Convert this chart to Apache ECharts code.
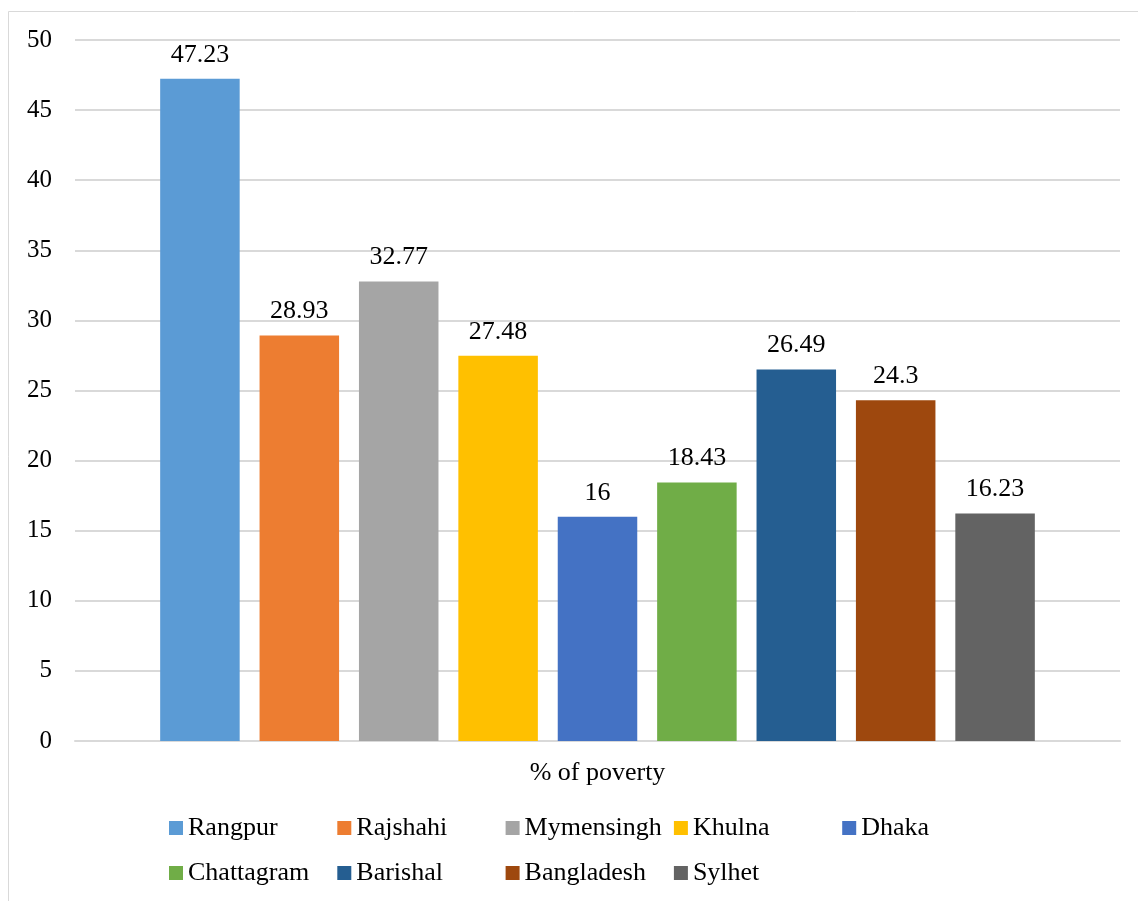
<!DOCTYPE html>
<html>
<head>
<meta charset="utf-8">
<style>
  html, body { margin: 0; padding: 0; background: #fff; }
  #chart { width: 1138px; height: 901px; }
</style>
<script src="https://cdn.jsdelivr.net/npm/echarts@6/dist/echarts.min.js"></script>
</head>
<body>
<div id="chart"></div>
<script>
// Poverty rate by division (%)
const categories = ['% of poverty'];
const divisions = ['Rangpur', 'Rajshahi', 'Mymensingh', 'Khulna', 'Dhaka',
                   'Chattagram', 'Barishal', 'Bangladesh', 'Sylhet'];
const povertyValues = [47.23, 28.93, 32.77, 27.48, 16, 18.43, 26.49, 24.3, 16.23];
const divisionColors = ['#5B9BD5', '#ED7D31', '#A5A5A5', '#FFC000', '#4472C4',
                        '#70AD47', '#255E91', '#9E480E', '#636363'];
const yTicks = { min: 0, max: 50, step: 5 };

const FONT = '"Liberation Serif", "Times New Roman", serif';
const chart = echarts.init(document.getElementById('chart'));

const series = divisions.map((name, i) => ({
  name: name,
  type: 'bar',
  data: [povertyValues[i]],
  itemStyle: { color: divisionColors[i] },
  barGap: '25%',
  barCategoryGap: '16.3%',
  label: {
    show: true,
    position: 'top',
    distance: 11,
    color: '#000',
    fontFamily: FONT,
    fontSize: 26
  }
}));

// Legend laid out as a 5-column grid: one legend component per entry
const LEGEND_COLS = 5;
const legends = divisions.map((name, i) => ({
  data: [name],
  left: 169 + (i % LEGEND_COLS) * 168.3,
  top: 815 + Math.floor(i / LEGEND_COLS) * 45,
  padding: 0,
  itemWidth: 14,
  itemHeight: 14,
  icon: 'rect',
  textStyle: { fontFamily: FONT, fontSize: 26, color: '#000' }
}));

chart.setOption({
  animation: false,
  backgroundColor: '#fff',
  graphic: [{
    type: 'rect',
    shape: { x: 8.5, y: 11.5, width: 1140, height: 900 },
    style: { fill: 'none', stroke: '#d9d9d9', lineWidth: 1 },
    silent: true
  }],
  grid: { left: 75, right: 18, top: 40, bottom: 160 },
  legend: legends,
  xAxis: {
    type: 'category',
    data: categories,
    axisLine: { show: true, lineStyle: { color: '#d9d9d9', width: 2 } },
    axisTick: { show: false },
    axisLabel: { margin: 19, color: '#000', fontFamily: FONT, fontSize: 26 }
  },
  yAxis: {
    type: 'value',
    min: yTicks.min,
    max: yTicks.max,
    interval: yTicks.step,
    axisLine: { show: false },
    axisTick: { show: false },
    splitLine: { lineStyle: { color: '#d9d9d9', width: 2 } },
    axisLabel: { margin: 23, color: '#000', fontFamily: FONT, fontSize: 25 }
  },
  series: series
});
</script>
</body>
</html>
